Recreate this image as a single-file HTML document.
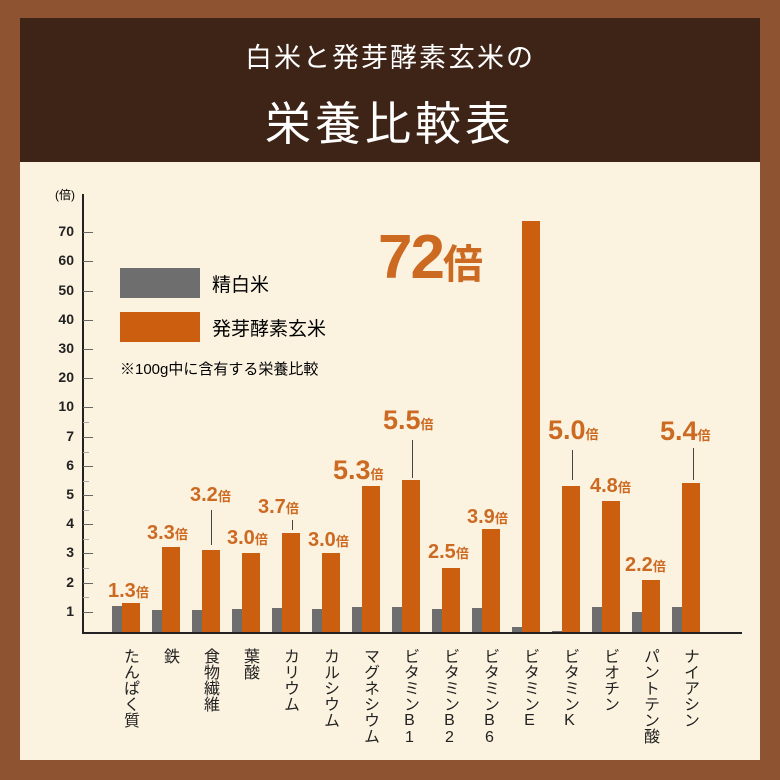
<!DOCTYPE html><html><head><meta charset="utf-8"><style>
body{margin:0;width:780px;height:780px;background:#8e5330;font-family:"Liberation Sans","Noto Sans CJK JP",sans-serif;position:relative;overflow:hidden}
.a{position:absolute}
.hd{left:20px;top:18px;width:740px;height:144px;background:#3e2417}
.pn{left:20px;top:162px;width:740px;height:598px;background:#fbf2e0}
.t1{left:0;width:780px;top:36px;text-align:center;color:#fff;font-size:27px;letter-spacing:2px}
.t2{left:0;width:780px;top:88px;text-align:center;color:#fff;font-size:46px;letter-spacing:4px}
.yl{left:40px;width:34px;text-align:right;font-size:14px;font-weight:bold;color:#222}
.tk{left:83px;width:10px;height:1px;background:#666}
.g{background:#6e6e6e;width:10px}
.o{background:#cc5e10;width:18px}
.v{color:#cc6a22;font-weight:bold;font-size:21px;white-space:nowrap}
.v small{font-size:13px}
.ln{width:1px;background:#444}
.lb{writing-mode:vertical-rl;text-orientation:upright;font-size:16px;top:648px;color:#222;line-height:18px}
</style></head><body>
<div class="a hd"></div><div class="a pn"></div>
<div class="a t1">白米と発芽酵素玄米の</div>
<div class="a t2">栄養比較表</div>
<div class="a" style="left:55px;top:186px;font-size:12px">(倍)</div>
<div class="a" style="left:82px;top:194px;width:2px;height:440px;background:#222"></div>
<div class="a" style="left:82px;top:632px;width:660px;height:2px;background:#222"></div>
<div class="a" style="left:120px;top:268px;width:80px;height:30px;background:#6e6e6e"></div>
<div class="a" style="left:120px;top:312px;width:80px;height:30px;background:#cc5e10"></div>
<div class="a" style="left:212px;top:270px;font-size:19px">精白米</div>
<div class="a" style="left:212px;top:314px;font-size:19px">発芽酵素玄米</div>
<div class="a" style="left:120px;top:358px;font-size:15px">※100g中に含有する栄養比較</div>
<div id="bars"></div>
<div class="a v" style="left:378px;top:222px;font-size:62px;letter-spacing:-2px">72<span style="font-size:40px">倍</span></div>
<script>
var ys=[[70,232],[60,261],[50,291],[40,320],[30,349],[20,378],[10,407],[7,437],[6,466],[5,495],[4,524],[3,553],[2,583],[1,612]];
var h='';ys.forEach(function(a){h+='<div class="a yl" style="top:'+(a[1]-9)+'px">'+a[0]+'</div><div class="a tk" style="top:'+a[1]+'px"></div>';});
[597,568,539,510,481,452,422].forEach(function(y){h+='<div class="a tk" style="top:'+y+'px;width:6px;background:#aaa"></div>'});
var d=[["たんぱく質",606,603],["鉄",610,547],["食物繊維",610,550],["葉酸",609,553],["カリウム",608,533],["カルシウム",609,553],["マグネシウム",607,486],["ビタミンB1",607,480],["ビタミンB2",609,568],["ビタミンB6",608,529],["ビタミンE",627,221],["ビタミンK",631,486],["ビオチン",607,501],["パントテン酸",612,580],["ナイアシン",607,483]];
d.forEach(function(r,i){var x=112+i*40;
h+='<div class="a g" style="left:'+x+'px;top:'+r[1]+'px;height:'+(632-r[1])+'px"></div>';
h+='<div class="a o" style="left:'+(x+10)+'px;top:'+r[2]+'px;height:'+(632-r[2])+'px"></div>';
h+='<div class="a lb" style="left:'+(x+8)+'px">'+r[0]+'</div>';});
var v=[["1.3",108,580],["3.3",147,522],["3.2",190,484],["3.0",227,527],["3.7",258,496],["3.0",308,529],["5.3",333,455],["5.5",383,405],["2.5",428,541],["3.9",467,506],["5.0",548,415],["4.8",590,475],["2.2",625,554],["5.4",660,416]];
v.forEach(function(a){var big=(a[0]=="5.3"||a[0]=="5.5"||a[0]=="5.0"||a[0]=="5.4");h+='<div class="a v" style="left:'+a[1]+'px;top:'+a[2]+'px;font-size:'+(big?27:20)+'px">'+a[0]+'<small>倍</small></div>';});
[[211,510,545],[292,520,530],[412,440,478],[572,450,480],[693,448,480]].forEach(function(l){h+='<div class="a ln" style="left:'+l[0]+'px;top:'+l[1]+'px;height:'+(l[2]-l[1])+'px"></div>';});
document.getElementById('bars').innerHTML=h;
</script>
</body></html>
